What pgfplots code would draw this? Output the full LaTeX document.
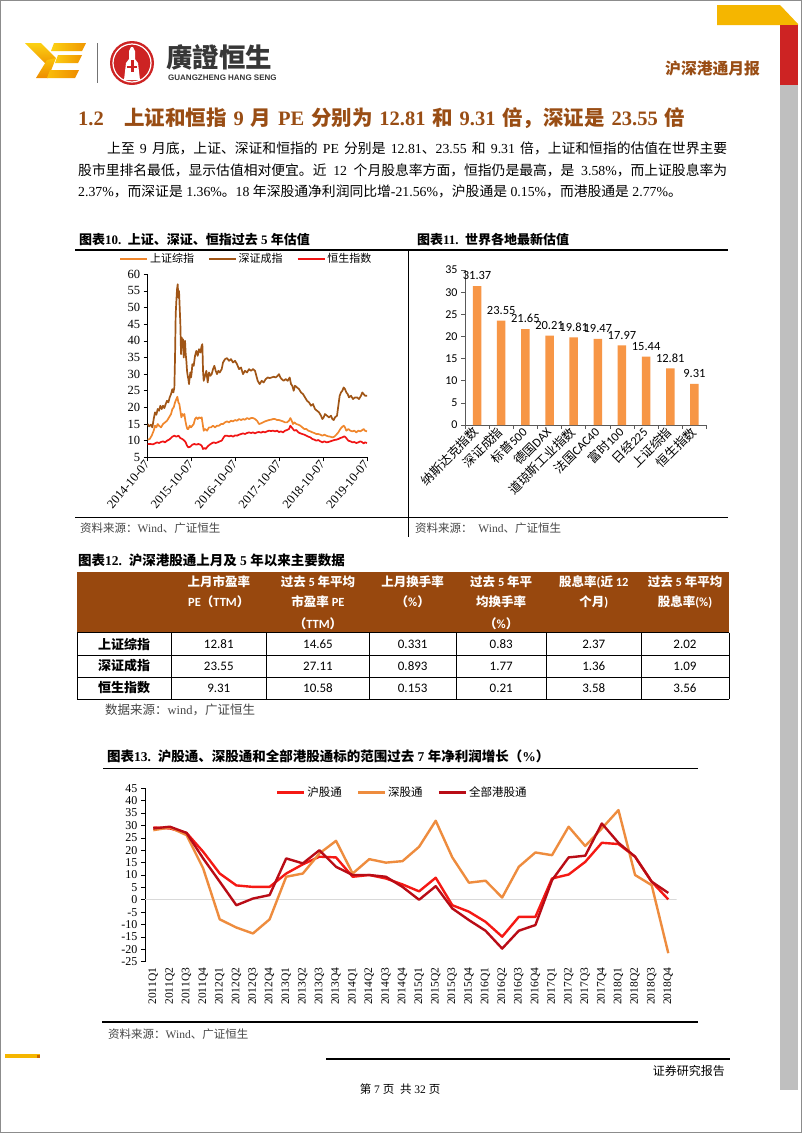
\documentclass[border=0pt]{standalone}
\usepackage{fontspec}
\usepackage{pgfplots}
\usepackage{pgfplotstable}
\pgfplotsset{compat=1.18}
\setmainfont{Liberation Serif}
\newfontfamily\cjk{Noto Sans CJK SC}
\newfontfamily\carlito{Carlito}
\newfontfamily\lsans{Liberation Sans}
\def\latinfont{\rmfamily}
\newcommand\usecarlito{\def\latinfont{\carlito}\carlito}
\newcommand\fs[1]{\fontsize{#1}{#1}\selectfont}
\XeTeXinterchartokenstate=1
\newXeTeXintercharclass\cjkclass
\makeatletter
\count@="2E80
\loop\XeTeXcharclass\count@=\cjkclass\ifnum\count@<"9FFF\advance\count@\@ne\repeat
\count@="FF00
\loop\XeTeXcharclass\count@=\cjkclass\ifnum\count@<"FFEF\advance\count@\@ne\repeat
\makeatother
\XeTeXinterchartoks 0 \cjkclass={\cjk}
\XeTeXinterchartoks 4095 \cjkclass={\cjk}
\XeTeXinterchartoks \cjkclass 0={\latinfont}
\XeTeXinterchartoks \cjkclass 4095={\latinfont}
\XeTeXlinebreaklocale "zh"
\XeTeXlinebreakskip=0pt plus 2pt

\definecolor{brownh}{RGB}{153,77,20}
\definecolor{tblbrown}{RGB}{152,72,14}
\definecolor{shorange}{RGB}{240,135,45}
\definecolor{szbrown}{RGB}{160,85,22}
\definecolor{hsred}{RGB}{240,20,20}
\definecolor{barorange}{RGB}{247,150,70}
\definecolor{hgtred}{RGB}{245,25,20}
\definecolor{sgtorange}{RGB}{238,140,62}
\definecolor{allred}{RGB}{185,12,22}
\definecolor{ylogo}{RGB}{245,182,0}
\definecolor{rlogo}{RGB}{205,35,35}
\definecolor{graybar}{RGB}{191,191,191}
\definecolor{srcgray}{RGB}{70,70,70}

% Figure 10 data (x: horizontal position on the original time axis, 2014-10-07 = 218, one year = 131.6)
\pgfplotstableread{
x y
218 10.3
224 10.5
230 11.5
236 13.0
240 14.5
244 14.0
248 15.0
252 14.5
258 14.0
264 15.0
270 15.5
276 16.0
282 17.0
288 18.0
292 19.5
296 20.0
300 21.5
304 22.5
307 23.2
310 21.5
313 21.0
316 19.0
319 17.0
322 18.0
325 17.5
328 18.0
331 16.0
334 14.5
337 13.5
340 13.5
344 14.5
348 14.0
352 14.5
356 15.0
360 16.5
364 17.0
368 16.5
372 17.0
376 16.8
380 17.0
383 15.0
386 13.0
390 13.5
396 13.0
402 14.0
408 14.0
414 14.5
420 14.0
426 14.5
432 14.5
438 15.0
444 15.0
450 15.5
456 15.8
462 15.5
468 16.0
474 15.8
480 16.2
486 16.0
492 16.5
498 16.2
504 16.5
510 16.3
516 16.8
522 16.5
528 16.8
534 16.8
540 16.5
546 16.0
552 15.0
558 15.2
564 15.5
570 15.8
576 16.0
582 16.2
588 16.3
594 16.5
600 16.5
606 16.2
612 16.2
618 16.0
624 15.8
630 15.5
636 15.5
642 16.0
646 16.8
650 16.0
654 15.0
658 15.5
664 15.0
670 14.8
676 14.5
682 14.0
688 13.5
694 13.5
700 13.0
706 12.8
712 12.5
718 12.3
724 12.0
730 12.0
736 11.8
742 11.5
748 11.8
754 11.5
760 11.3
766 11.2
772 11.0
778 11.2
784 11.8
790 12.5
796 13.5
800 14.0
806 14.5
810 14.0
814 13.0
820 13.5
826 13.0
832 12.8
838 13.0
844 12.5
850 13.0
856 12.8
862 13.2
866 13.5
870 13.0
876 12.8
}\tabSH
\pgfplotstableread{
x y
218 15.0
222 14.3
228 14.8
232 14.0
236 16.5
240 18.5
244 17.8
248 19.5
252 19.0
256 20.5
260 19.5
264 20.5
268 19.8
272 21.0
276 22.0
280 21.5
284 23.0
288 24.0
292 25.5
295 24.5
298 26.0
300 35.0
302 48.0
304 52.0
306 55.5
308 57.0
310 53.0
312 55.0
314 50.0
316 45.0
318 36.0
320 41.0
322 38.0
324 40.5
326 35.0
328 39.0
330 40.0
332 36.0
334 34.0
336 31.0
338 29.5
340 28.5
342 27.0
344 29.0
346 30.5
348 29.0
350 30.5
352 33.0
356 32.5
360 35.5
364 37.0
368 35.5
372 37.5
376 36.5
380 38.5
382 39.0
384 31.0
386 28.0
390 29.5
394 31.0
398 27.5
402 30.5
406 29.5
410 30.0
414 31.5
418 32.5
422 31.0
426 30.0
430 31.0
434 30.5
440 31.5
444 33.5
450 34.5
456 34.8
462 34.0
468 34.5
474 33.5
480 34.0
486 33.0
492 31.5
498 32.0
504 30.0
510 31.0
516 30.5
522 31.5
528 31.0
534 31.5
540 31.0
544 29.5
548 28.0
554 27.0
560 28.0
566 27.5
572 28.5
578 29.0
584 28.8
590 29.0
596 29.2
602 29.0
608 29.5
612 30.0
616 29.0
620 28.5
626 28.0
632 28.5
638 28.0
644 29.0
648 27.0
652 26.5
656 25.0
660 26.5
666 26.0
672 25.5
678 24.5
684 24.0
690 23.0
696 22.0
702 21.5
708 20.5
714 21.0
720 19.5
726 19.0
732 18.5
738 17.5
742 16.5
746 17.0
750 18.0
756 17.5
762 17.0
768 17.5
772 16.5
776 16.2
780 17.0
786 17.5
790 20.5
794 23.5
798 24.5
802 25.0
806 26.0
810 25.5
814 24.5
818 24.0
822 23.0
828 23.5
834 22.5
840 23.0
846 23.0
852 22.5
858 23.5
862 24.5
866 24.0
870 23.5
876 23.5
}\tabSZ
\pgfplotstableread{
x y
218 9.0
226 9.0
234 8.9
240 9.2
246 9.5
252 9.3
258 9.6
264 9.8
270 9.5
276 10.0
282 10.3
288 10.8
292 11.2
298 11.5
304 11.2
310 11.5
316 10.8
322 10.5
328 10.0
332 9.5
336 8.5
340 8.0
346 8.2
352 8.8
358 9.0
364 8.8
370 9.0
376 8.8
380 8.5
384 7.5
388 7.8
392 7.5
398 8.3
404 8.8
410 9.2
416 9.5
422 9.3
428 9.5
434 9.8
440 10.0
446 11.0
450 11.5
456 11.5
462 11.3
468 11.5
474 11.2
480 11.6
486 11.5
492 11.8
498 12.0
504 12.2
510 12.0
516 12.3
522 12.5
528 12.3
534 12.5
540 12.2
546 12.5
552 12.6
558 12.4
564 12.7
570 12.5
576 12.8
582 13.0
588 12.9
594 13.0
600 12.8
606 13.0
612 12.6
618 12.8
624 12.5
630 13.0
636 13.2
642 13.5
646 14.5
650 14.0
654 13.5
658 13.0
664 13.2
670 12.5
676 12.2
682 12.0
688 11.8
694 11.5
700 11.2
706 11.0
712 10.5
718 10.3
724 10.0
730 10.2
736 9.8
742 9.5
748 9.8
754 9.5
760 9.6
766 9.8
772 10.0
778 10.2
784 10.3
790 10.5
796 10.8
802 11.0
808 11.3
812 11.0
816 10.5
820 10.0
826 9.8
832 9.5
838 9.6
844 9.3
850 9.5
856 9.8
862 9.5
866 9.2
870 9.5
876 9.3
}\tabHS

\pgfplotstableread{
i pe
0 31.37
1 23.55
2 21.65
3 20.21
4 19.81
5 19.47
6 17.97
7 15.44
8 12.81
9 9.31
}\tabWorld

\pgfplotstableread{
q hgt sgt all
0 29.2 28.1 28.8
1 28.8 29.2 29.5
2 27.0 26.1 27.0
3 19.4 12.7 16.7
4 10.6 -7.9 7.3
5 5.8 -11.2 -2.2
6 5.2 -13.6 0.5
7 5.2 -7.9 1.9
8 10.6 9.3 16.7
9 14.3 10.6 14.7
10 17.4 18.7 20.0
11 17.1 23.8 13.3
12 9.3 10.6 10.0
13 10.0 16.4 10.0
14 8.6 15.0 9.3
15 6.2 15.6 5.2
16 3.4 21.4 0.0
17 8.9 31.9 5.5
18 -2.2 17.1 -3.5
19 -4.8 6.9 -8.2
20 -8.9 7.7 -12.5
21 -14.9 0.9 -19.7
22 -6.9 13.3 -12.5
23 -6.9 19.1 -10.2
24 8.6 18.0 7.9
25 10.2 29.5 17.1
26 15.3 21.7 17.8
27 23.0 28.8 30.8
28 22.5 36.2 23.0
29 17.4 10.0 17.4
30 7.3 5.9 7.3
31 0.15 -21.56 2.77
}\tabProfit

\begin{document}
\begin{tikzpicture}
\path[use as bounding box] (0,0) rectangle (802pt,-1133pt);
\fill[white] (0,0) rectangle (802pt,-1133pt);

% ---------------- Figure 10 ----------------
\begin{axis}[
  at={(147.7pt,-457.3pt)}, anchor=south west,
  scale only axis, width=219.3pt, height=183pt,
  xmin=218, xmax=876, ymin=5, ymax=60,
  axis lines*=left, axis line style={black, line width=0.6pt},
  tick align=outside, major tick length=4pt,
  tick style={black, line width=0.6pt},
  ytick={5,10,...,60},
  xtick={218,349.6,481.2,612.8,744.4,876},
  xticklabels={2014-10-07,2015-10-07,2016-10-07,2017-10-07,2018-10-07,2019-10-07},
  xticklabel style={rotate=50, anchor=east, font=\fs{12.5}, inner sep=1pt},
  yticklabel style={font=\fs{12.5}},
  /pgf/number format/assume math mode=true,
  legend columns=3,
  legend style={at={(0.45,1.084)}, anchor=center, draw=none, fill=none, font=\fs{11}, inner sep=0pt},
  legend image code/.code={\draw[#1] (0pt,0pt) -- (27pt,0pt);},
]
\addplot[shorange, line width=1.7pt, line join=round] table[x=x,y=y]{\tabSH};
\addlegendentry{上证综指\hspace*{12pt}}
\addplot[szbrown, line width=1.7pt, line join=round] table[x=x,y=y]{\tabSZ};
\addlegendentry{深证成指\hspace*{12pt}}
\addplot[hsred, line width=1.7pt, line join=round] table[x=x,y=y]{\tabHS};
\addlegendentry{恒生指数}
\end{axis}

% ---------------- Figure 11 ----------------
\begin{axis}[
  at={(465pt,-425pt)}, anchor=south west,
  scale only axis, width=241.5pt, height=155pt,
  xmin=-0.5, xmax=9.5, ymin=0, ymax=35,
  axis lines*=left, axis line style={black!65, line width=0.6pt},
  tick align=outside, major tick length=4pt, minor tick length=4pt,
  tick style={black!65, line width=0.6pt},
  ytick={0,5,...,35},
  xtick={0,...,9},
  major x tick style={draw=none},
  minor xtick={-0.5,0.5,...,9.5},
  xticklabels={纳斯达克指数,深证成指,标普500,德国DAX,道琼斯工业指数,法国CAC40,富时100,日经225,上证综指,恒生指数},
  xticklabel style={rotate=45, anchor=east, font=\usecarlito\fs{12.5}, inner sep=1pt},
  yticklabel style={font=\usecarlito\fs{12}},
  /pgf/number format/assume math mode=true,
  ybar, bar width=8.5pt,
  nodes near coords={\pgfmathprintnumber[fixed,fixed zerofill,precision=2]{\pgfplotspointmeta}},
  every node near coord/.append style={font=\usecarlito\fs{12.5}, black, anchor=south, yshift=2.5pt},
]
\addplot[fill=barorange, draw=none] table[x=i,y=pe]{\tabWorld};
\end{axis}

% ---------------- Figure 13 ----------------
\begin{axis}[
  at={(145pt,-961.7pt)}, anchor=south west,
  scale only axis, width=531.6pt, height=173.4pt,
  xmin=-0.5, xmax=31.5, ymin=-25, ymax=45,
  axis lines*=left,
  x axis line style={draw=none},
  y axis line style={black, line width=0.6pt},
  tick align=outside, major tick length=4pt,
  tick style={black, line width=0.6pt},
  major x tick style={draw=none},
  ytick={-25,-20,...,45},
  xtick={0,...,31},
  xticklabels={2011Q1,2011Q2,2011Q3,2011Q4,2012Q1,2012Q2,2012Q3,2012Q4,2013Q1,2013Q2,2013Q3,2013Q4,2014Q1,2014Q2,2014Q3,2014Q4,2015Q1,2015Q2,2015Q3,2015Q4,2016Q1,2016Q2,2016Q3,2016Q4,2017Q1,2017Q2,2017Q3,2017Q4,2018Q1,2018Q2,2018Q3,2018Q4},
  xticklabel style={rotate=90, anchor=east, font=\fs{11.5}, inner sep=2pt, yshift=0pt, xshift=0pt},
  yticklabel style={font=\fs{12}},
  /pgf/number format/assume math mode=true,
  legend columns=3,
  legend style={at={(0.484,0.975)}, anchor=center, draw=none, fill=none, font=\fs{11.5}, inner sep=0pt},
  legend image code/.code={\draw[#1] (0pt,0pt) -- (27pt,0pt);},
]
\addplot[black!15, line width=1.2pt, forget plot] coordinates {(-0.5,0) (31.5,0)};
\addplot[hgtred, line width=2.4pt, line join=round] table[x=q,y=hgt]{\tabProfit};
\addlegendentry{沪股通\hspace*{13pt}}
\addplot[sgtorange, line width=2.4pt, line join=round] table[x=q,y=sgt]{\tabProfit};
\addlegendentry{深股通\hspace*{13pt}}
\addplot[allred, line width=2.4pt, line join=round] table[x=q,y=all]{\tabProfit};
\addlegendentry{全部港股通}
\end{axis}

\begin{scope}[x=1pt,y=-1pt]
% page frame and right-hand decoration
\draw[black!45, line width=1.2pt] (0.6,0.6) rectangle (801.4,1132.4);
\fill[ylogo] (717,5) -- (780,5) -- (798,24) -- (798,25) -- (717,25) -- cycle;
\fill[rlogo] (780,25) rectangle (798,85);
\fill[graybar] (780,85) rectangle (798,1090);

% YE logo
\shade[top color={rgb,255:red,252;green,210;blue,20}, bottom color={rgb,255:red,240;green,150;blue,0}]
  (25,43) -- (41,43) -- (56,58) -- (47,65) -- cycle;
\shade[top color={rgb,255:red,250;green,195;blue,10}, bottom color={rgb,255:red,238;green,140;blue,0}]
  (47,60) -- (56,58) -- (48,78) -- (36,78) -- cycle;
\shade[left color={rgb,255:red,252;green,210;blue,20}, right color={rgb,255:red,240;green,150;blue,0}]
  (54,43) -- (86,43) -- (82,51) -- (51,51) -- cycle;
\shade[left color={rgb,255:red,252;green,205;blue,20}, right color={rgb,255:red,240;green,150;blue,0}]
  (58,55) -- (82,55) -- (78,63) -- (55,63) -- cycle;
\shade[left color={rgb,255:red,250;green,190;blue,10}, right color={rgb,255:red,238;green,140;blue,0}]
  (50,70) -- (79,70) -- (75,78) -- (47,78) -- cycle;
\draw[black!55, line width=0.8pt] (97,43) -- (97,83);
% red round logo
\fill[rlogo] (132,63) circle (22);
\draw[white, line width=1.2pt] (132,63) circle (19);
\fill[white] (124,80) -- (140,80) -- (138,63) -- (135,59) -- (135,51) -- (133,47) -- (131,47) -- (129,51) -- (129,59) -- (126,63) -- cycle;
\fill[rlogo] (130.5,60) rectangle (133.5,72);
\fill[rlogo] (127,66) rectangle (137,68);
\node[anchor=west, inner sep=0, text={rgb,255:red,55;green,55;blue,55}, font=\bfseries\fs{26.5}] at (166,57) {廣證恒生};
\node[anchor=west, inner sep=0, text={rgb,255:red,55;green,55;blue,55}, font=\lsans\bfseries\fs{8}] at (168,77.5) {GUANGZHENG HANG SENG};
\node[anchor=west, inner sep=0, text=brownh, font=\bfseries\fs{15.8}] at (665,68) {沪深港通月报};

% heading and body
\node[anchor=west, inner sep=0, text=brownh, font=\bfseries\fs{20.5}] at (78,118)
  {\makebox[607pt][s]{1.2\quad 上证和恒指 9 月 PE 分别为 12.81 和 9.31 倍，深证是 23.55 倍}};
\node[anchor=west, inner sep=0, font=\fs{13.8}] at (107,148.5)
  {\makebox[620pt][s]{上至 9 月底，上证、深证和恒指的 PE 分别是 12.81、23.55 和 9.31 倍，上证和恒指的估值在世界主要}};
\node[anchor=west, inner sep=0, font=\fs{13.8}] at (78,170)
  {\makebox[649pt][s]{股市里排名最低，显示估值相对便宜。近 12 个月股息率方面，恒指仍是最高，是 3.58\%，而上证股息率为}};
\node[anchor=west, inner sep=0, font=\fs{13.8}] at (78,191.5)
  {2.37\%，而深证是 1.36\%。18 年深股通净利润同比增-21.56\%，沪股通是 0.15\%，而港股通是 2.77\%。};

% figures 10 / 11 frame
\node[anchor=west, inner sep=0, font=\bfseries\fs{13}] at (79,240) {图表10.\enspace 上证、深证、恒指过去 5 年估值};
\node[anchor=west, inner sep=0, font=\bfseries\fs{13}] at (417,240) {图表11.\enspace 世界各地最新估值};
\draw[black, line width=1.4pt] (75,250) -- (728,250);
\draw[black, line width=1.4pt] (75,517.7) -- (728,517.7);
\draw[black, line width=1pt] (408,250) -- (408,537);
\node[anchor=west, inner sep=0, text=srcgray, font=\fs{11.5}] at (80,528) {资料来源：Wind、广证恒生};
\node[anchor=west, inner sep=0, text=srcgray, font=\fs{11.5}] at (415,528) {资料来源：\enspace Wind、广证恒生};

% figure 12 table
\node[anchor=west, inner sep=0, font=\bfseries\fs{13.5}] at (78,560) {图表12.\enspace 沪深港股通上月及 5 年以来主要数据};
\fill[tblbrown] (77,571.7) rectangle (729,632.7);
\begin{scope}[every node/.style={inner sep=0, text=white, font=\usecarlito\bfseries\fs{12.5}}]
\node at (218.8,581.7) {上月市盈率};
\node at (218.8,601.7) {PE（TTM）};
\node at (318,581.7) {过去 5 年平均};
\node at (318,601.7) {市盈率 PE};
\node at (318,623.3) {（TTM）};
\node at (412.7,581.7) {上月换手率};
\node at (412.7,601.7) {（\%）};
\node at (501.2,581.7) {过去 5 年平};
\node at (501.2,601.7) {均换手率};
\node at (501.2,623.3) {（\%）};
\node at (593.8,581.7) {股息率(近 12};
\node at (593.8,601.7) {个月)};
\node at (685,581.7) {过去 5 年平均};
\node at (685,601.7) {股息率(\%)};
\end{scope}
\foreach \yy in {632.7,655,677,699} \draw[black, line width=0.7pt] (77,\yy) -- (729,\yy);
\foreach \xx in {77,171,266.5,369.6,455.9,546.4,641.1,729} \draw[black, line width=0.7pt] (\xx,632.7) -- (\xx,699);
\foreach \yy/\n/\a/\b/\c/\d/\e/\f in {644/上证综指/12.81/14.65/0.331/0.83/2.37/2.02, 666/深证成指/23.55/27.11/0.893/1.77/1.36/1.09, 688/恒生指数/9.31/10.58/0.153/0.21/3.58/3.56}{
  \node[inner sep=0, font=\bfseries\fs{13}] at (124,\yy) {\n};
  \node[inner sep=0, font=\usecarlito\fs{13}] at (218.8,\yy) {\a};
  \node[inner sep=0, font=\usecarlito\fs{13}] at (318,\yy) {\b};
  \node[inner sep=0, font=\usecarlito\fs{13}] at (412.7,\yy) {\c};
  \node[inner sep=0, font=\usecarlito\fs{13}] at (501.2,\yy) {\d};
  \node[inner sep=0, font=\usecarlito\fs{13}] at (593.8,\yy) {\e};
  \node[inner sep=0, font=\usecarlito\fs{13}] at (685,\yy) {\f};
}
\node[anchor=west, inner sep=0, text=srcgray, font=\fs{12.5}] at (105,710) {数据来源：wind，广证恒生};

% figure 13 frame
\node[anchor=west, inner sep=0, font=\bfseries\fs{13.5}] at (107,756.7) {图表13.\enspace 沪股通、深股通和全部港股通标的范围过去 7 年净利润增长（\%）};
\draw[black, line width=1.5pt] (103,768.3) -- (698,768.3);
\draw[black, line width=1.5pt] (102,1022) -- (698,1022);
\node[anchor=west, inner sep=0, text=srcgray, font=\fs{11.5}] at (108,1034) {资料来源：Wind、广证恒生};

% footer
\fill[ylogo] (5,1054) rectangle (40,1058);
\fill[orange!80!black] (37,1055) rectangle (40,1058);
\draw[black, line width=1.4pt] (326,1059) -- (730,1059);
\node[anchor=east, inner sep=0, font=\fs{12}] at (725,1071) {证券研究报告};
\node[inner sep=0, font=\fs{11.5}] at (400,1089) {第 7 页\ \ 共 32 页};
\end{scope}
\end{tikzpicture}
\end{document}
